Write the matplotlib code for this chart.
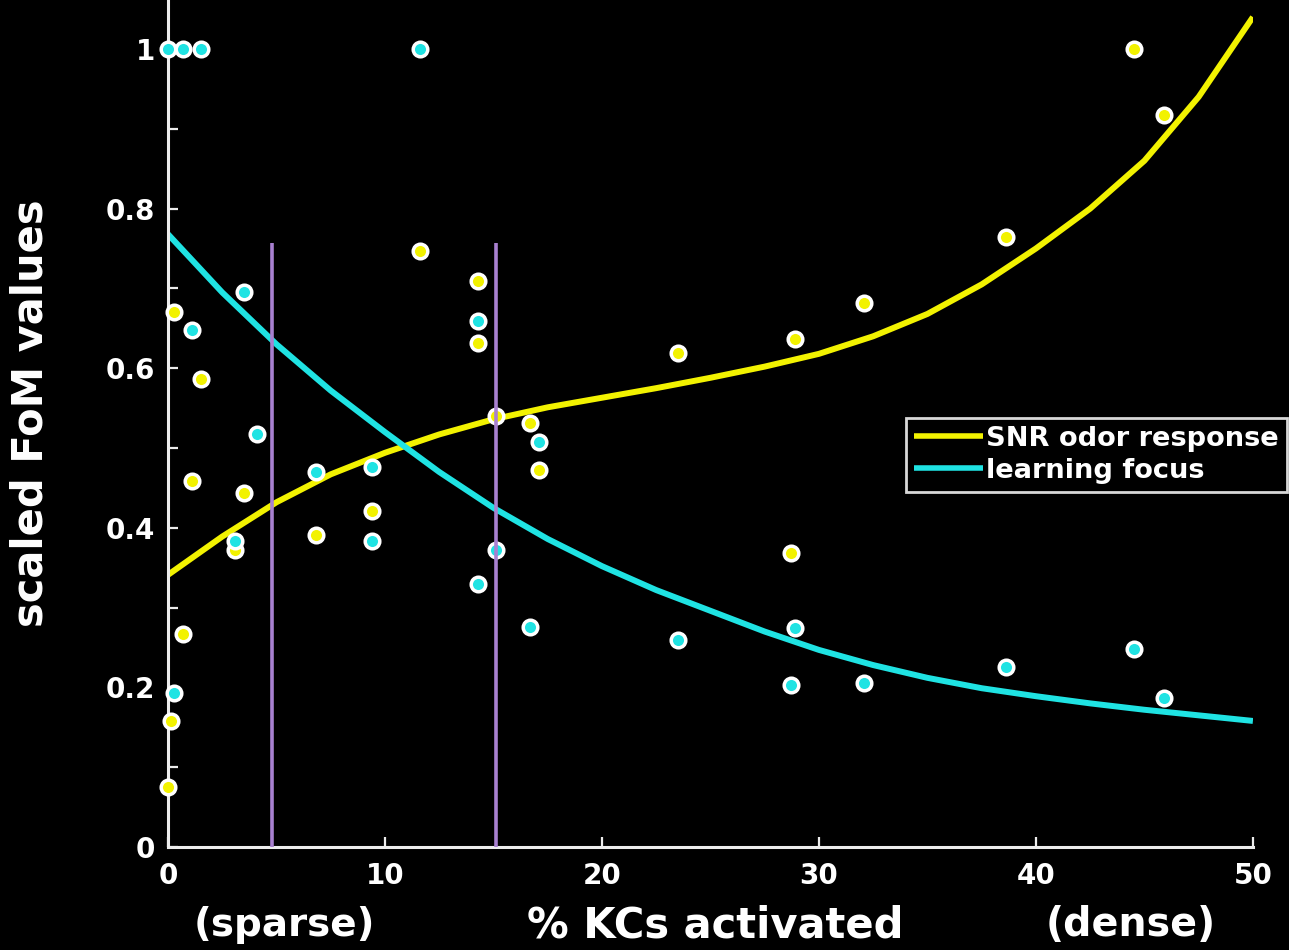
import matplotlib
matplotlib.use("Agg")
import matplotlib.pyplot as plt
from matplotlib.ticker import MultipleLocator

# Fitted trend curves, read along the x axis (% KCs activated)
curve_x = [0, 2.5, 5, 7.5, 10, 12.5, 15, 17.5, 20, 22.5, 25,
           27.5, 30, 32.5, 35, 37.5, 40, 42.5, 45, 47.5, 50]
snr_curve = [0.341, 0.389, 0.432, 0.467, 0.494, 0.517, 0.536, 0.551, 0.563,
             0.575, 0.588, 0.602, 0.618, 0.640, 0.668, 0.705, 0.750, 0.800,
             0.860, 0.940, 1.040]
focus_curve = [0.768, 0.695, 0.630, 0.572, 0.520, 0.470, 0.425, 0.386, 0.352,
               0.322, 0.296, 0.270, 0.247, 0.228, 0.212, 0.199, 0.189, 0.180,
               0.172, 0.165, 0.158]

# Per-condition scaled figures of merit
snr_x = [0.0, 0.15, 0.7, 0.3, 1.5, 1.1, 3.1, 3.5, 6.8, 9.4, 11.6, 14.3,
         14.3, 15.1, 16.7, 17.1, 23.5, 28.9, 28.7, 32.1, 38.6, 44.5, 45.9]
snr_y = [0.075, 0.158, 0.267, 0.670, 0.586, 0.459, 0.372, 0.444, 0.391,
         0.421, 0.747, 0.709, 0.632, 0.540, 0.531, 0.472, 0.619, 0.637,
         0.368, 0.682, 0.764, 1.0, 0.917]

focus_x = [0.0, 0.7, 1.5, 11.6, 3.5, 1.1, 4.1, 6.8, 9.4, 3.1, 9.4, 0.3,
           14.3, 14.3, 15.1, 17.1, 16.7, 23.5, 28.9, 28.7, 32.1, 38.6,
           44.5, 45.9]
focus_y = [1.0, 1.0, 1.0, 1.0, 0.695, 0.648, 0.518, 0.470, 0.476, 0.383,
           0.383, 0.193, 0.659, 0.330, 0.372, 0.508, 0.276, 0.259, 0.274,
           0.203, 0.206, 0.226, 0.248, 0.187]

# Sparsity window markers
window_x = [4.8, 15.1]
window_top = 0.757

YELLOW = "#f2f200"
CYAN = "#1fe3e3"
PURPLE = "#a880d0"
WHITE = "#ececec"

plt.rcParams["font.family"] = "DejaVu Sans"
plt.rcParams["font.weight"] = "bold"

fig = plt.figure(figsize=(12.89, 9.5), dpi=100, facecolor="black")
ax = fig.add_axes([0.1303, 0.1084, 0.8417, 0.8916], facecolor="black")

l1, = ax.plot(curve_x, snr_curve, color=YELLOW, lw=4.3,
              solid_capstyle="butt", solid_joinstyle="round", zorder=2,
              label="SNR odor response")
l2, = ax.plot(curve_x, focus_curve, color=CYAN, lw=4.3,
              solid_capstyle="butt", solid_joinstyle="round", zorder=2,
              label="learning focus")

ax.plot(snr_x, snr_y, "o", ms=10.5, mfc=YELLOW, mec="white", mew=2.5,
        zorder=3, clip_on=False)
ax.plot(focus_x, focus_y, "o", ms=10.5, mfc=CYAN, mec="white", mew=2.5,
        zorder=4, clip_on=False)

ax.vlines(window_x, 0, window_top, colors=PURPLE, lw=2.6, zorder=5)

ax.set_xlim(0, 50)
ax.set_ylim(0, 1.0614)

ax.xaxis.set_major_locator(MultipleLocator(10))
ax.yaxis.set_minor_locator(MultipleLocator(0.1))
ax.set_yticks([0, 0.2, 0.4, 0.6, 0.8, 1.0])
ax.set_yticklabels(["0", "0.2", "0.4", "0.6", "0.8", "1"])

ax.tick_params(axis="both", which="both", direction="in", length=7,
               width=1.6, color=WHITE, labelcolor="white", labelsize=20)
ax.tick_params(axis="x", pad=11)
ax.tick_params(axis="y", pad=9)
for lab in ax.get_xticklabels() + ax.get_yticklabels():
    lab.set_fontweight("bold")

for side in ("top", "right"):
    ax.spines[side].set_visible(False)
for side in ("left", "bottom"):
    ax.spines[side].set_color(WHITE)
    ax.spines[side].set_linewidth(2.2)

# Legend box runs past the right edge of the figure
leg = ax.legend(handles=[l1, l2], loc="upper left",
                bbox_to_anchor=(0.680, 0.507), frameon=True, fancybox=False,
                facecolor="black", edgecolor="#d8d8d8", framealpha=1,
                borderpad=0.3, handlelength=2.55, handletextpad=0.1,
                labelspacing=0.22, borderaxespad=0,
                prop={"weight": "bold", "size": 19.6})
leg.get_frame().set_linewidth(2)
for t in leg.get_texts():
    t.set_color("white")
for h in leg.get_lines():
    h.set_linewidth(4)

# Axis titles
fig.text(0.0233, 0.565, "scaled FoM values", rotation=90, ha="center",
         va="center", color="white", fontsize=30, fontweight="bold")
fig.text(0.221, 0.026, "(sparse)", ha="center", va="center",
         color="white", fontsize=28, fontweight="bold")
fig.text(0.555, 0.026, "% KCs activated", ha="center", va="center",
         color="white", fontsize=30, fontweight="bold")
fig.text(0.877, 0.026, "(dense)", ha="center", va="center",
         color="white", fontsize=28.5, fontweight="bold")

fig.savefig("out.png", dpi=100, facecolor="black")
